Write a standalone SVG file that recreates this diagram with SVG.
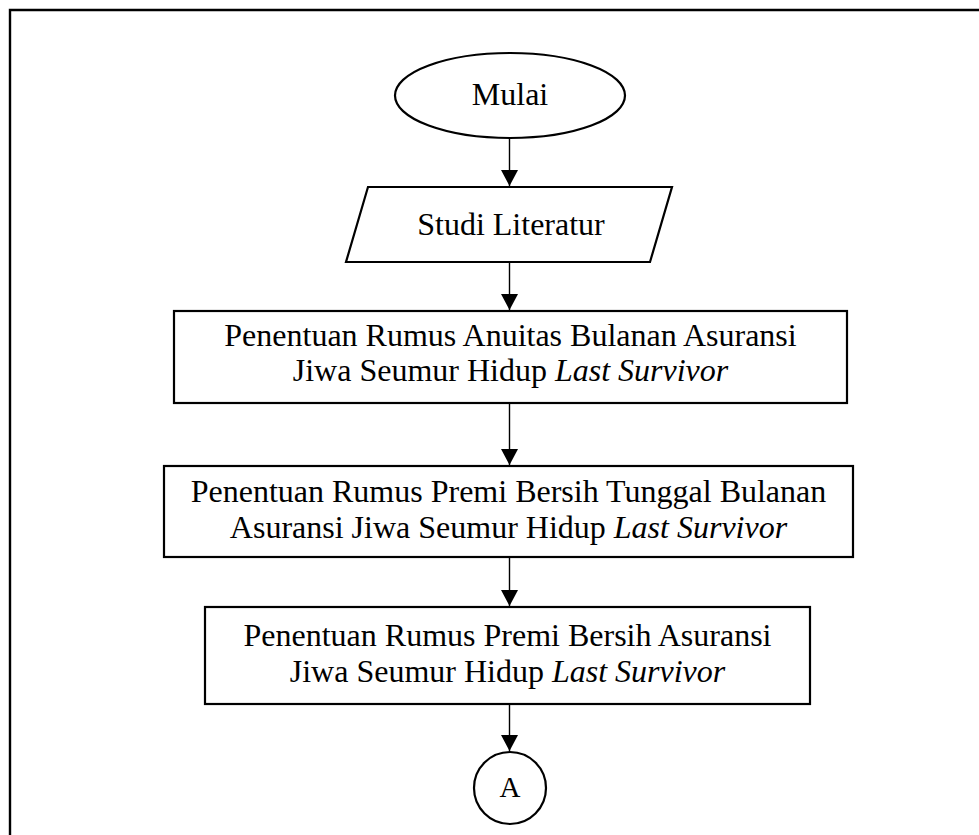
<svg xmlns="http://www.w3.org/2000/svg" width="979" height="835" viewBox="0 0 979 835">
<style>
.sh{fill:#fff;stroke:#000;stroke-width:2.2}
.t{font-family:"Liberation Serif","Times New Roman",serif;font-size:32px;fill:#000;text-anchor:middle}
.i{font-style:italic}
.c{stroke:#000;stroke-width:1.4;fill:none;marker-end:url(#ah)}
</style>
<defs>
<marker id="ah" markerWidth="17" markerHeight="18" refX="16" refY="8.5" orient="auto" markerUnits="userSpaceOnUse" viewBox="0 0 17 17">
<path d="M0,0 L16,8.5 L0,17 Z" fill="#000"/>
</marker>
</defs>
<rect width="979" height="835" fill="#fff"/>
<path d="M10,840 L10,10 L990,10" fill="none" stroke="#000" stroke-width="2.4"/>
<g id="connectors">
<line class="c" x1="509.5" y1="138" x2="509.5" y2="186"/>
<line class="c" x1="509.5" y1="263" x2="509.5" y2="310"/>
<line class="c" x1="509.5" y1="404" x2="509.5" y2="465"/>
<line class="c" x1="509.5" y1="558" x2="509.5" y2="606"/>
<line class="c" x1="509.5" y1="705" x2="509.5" y2="751"/>
</g>
<g id="mulai">
<ellipse class="sh" cx="510" cy="95.5" rx="115" ry="42.5"/>
<text class="t" x="510" y="105">Mulai</text>
</g>
<g id="studi">
<polygon class="sh" points="368,187 672,187 650,262 346,262"/>
<text class="t" x="511" y="235">Studi Literatur</text>
</g>
<g id="anuitas">
<rect class="sh" x="174" y="311" width="673" height="92"/>
<text class="t" x="510.5" y="346">Penentuan Rumus Anuitas Bulanan Asuransi</text>
<text class="t" x="510.5" y="381">Jiwa Seumur Hidup <tspan class="i">Last Survivor</tspan></text>
</g>
<g id="tunggal">
<rect class="sh" x="164" y="466" width="689" height="91"/>
<text class="t" x="508.5" y="502">Penentuan Rumus Premi Bersih Tunggal Bulanan</text>
<text class="t" x="508.5" y="538">Asuransi Jiwa Seumur Hidup <tspan class="i">Last Survivor</tspan></text>
</g>
<g id="premi">
<rect class="sh" x="205" y="607" width="605" height="97"/>
<text class="t" x="507.5" y="646">Penentuan Rumus Premi Bersih Asuransi</text>
<text class="t" x="507.5" y="682">Jiwa Seumur Hidup <tspan class="i">Last Survivor</tspan></text>
</g>
<g id="a">
<circle class="sh" cx="510" cy="788" r="36"/>
<text class="t" x="510" y="797" style="font-size:29px">A</text>
</g>
</svg>
